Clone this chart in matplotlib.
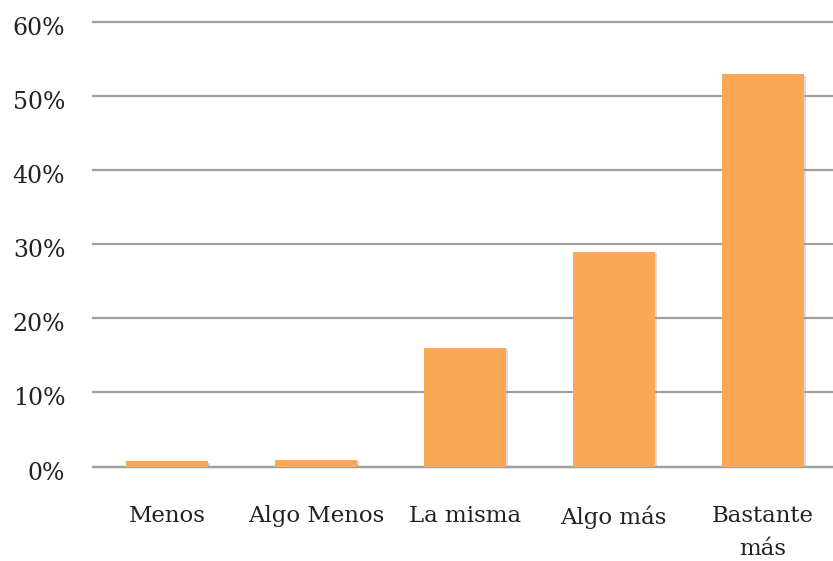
import matplotlib
matplotlib.use("Agg")
import matplotlib.pyplot as plt
import matplotlib.patheffects as pe
import matplotlib.transforms as mtransforms
from matplotlib.ticker import FuncFormatter, MultipleLocator

categories = ["Menos", "Algo Menos", "La misma", "Algo más", "Bastante\nmás"]
values = [0.7, 0.9, 16, 29, 53]

bar_color = "#F8A857"
grid_color = "#A0A0A0"
text_color = "#222222"

plt.rcParams["font.family"] = ["DejaVu Serif"]

W, H = 833, 561
fig = plt.figure(figsize=(W / 100, H / 100), dpi=100)
ax = fig.add_axes([93 / W, 94.5 / H, 744 / W, 444.2 / H])

x = range(len(categories))
bars = ax.bar(x, values, width=0.55, color=bar_color, zorder=3)
for b in bars:
    b.set_path_effects([
        pe.SimplePatchShadow(offset=(1.5, -1), shadow_rgbFace="#999999", alpha=0.35),
        pe.Normal(),
    ])

ax.set_xlim(-0.5, len(categories) - 0.5)
ax.set_ylim(0, 60)
ax.yaxis.set_major_locator(MultipleLocator(10))
ax.yaxis.set_major_formatter(FuncFormatter(lambda v, _: f"{v:.0f}%"))
ax.grid(axis="y", color=grid_color, linewidth=1.6, zorder=0)
ax.set_axisbelow(True)
for gl in ax.get_ygridlines():
    gl.set_clip_on(False)

for side in ("left", "right", "top"):
    ax.spines[side].set_visible(False)
ax.spines["bottom"].set_color(grid_color)
ax.spines["bottom"].set_linewidth(1.6)

ax.set_xticks(list(x))
ax.set_xticklabels(categories, linespacing=1.6)
ax.tick_params(axis="x", length=0, pad=28, labelsize=16.5, labelcolor=text_color)
ax.tick_params(axis="y", length=0, pad=20, labelsize=17, labelcolor=text_color)

# y labels sit slightly below their gridlines
shift = mtransforms.ScaledTranslation(0, -4 / 100, fig.dpi_scale_trans)
for lbl in ax.get_yticklabels():
    lbl.set_transform(lbl.get_transform() + shift)

fig.savefig("out.png", dpi=100)
